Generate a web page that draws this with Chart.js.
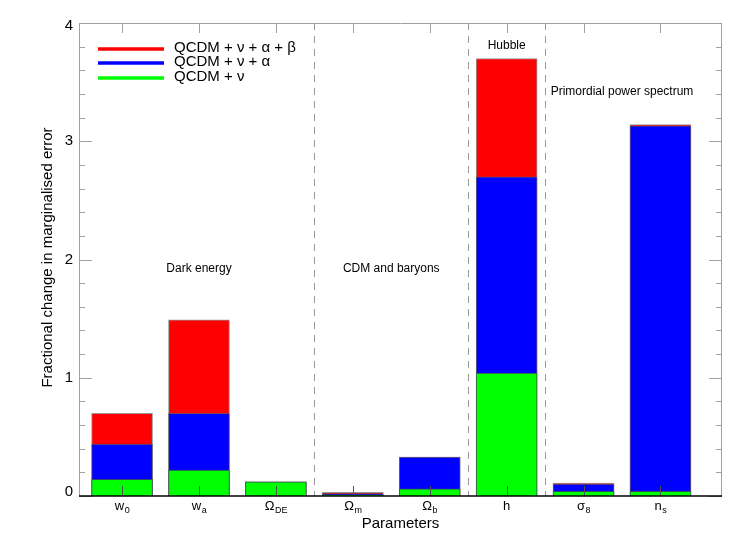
<!DOCTYPE html>
<html>
<head>
<meta charset="utf-8">
<script src="https://cdn.jsdelivr.net/npm/chart.js@4/dist/chart.umd.min.js"></script>
<style>
html,body{margin:0;padding:0;background:#fff;}
#wrap{width:747px;height:545px;position:relative;}
</style>
</head>
<body>
<div id="wrap"><canvas id="c" width="747" height="545"></canvas></div>
<script>
// ---- data ----
const paramMain = ['w', 'w', 'Ω', 'Ω', 'Ω', 'h', 'σ', 'n'];
const paramSub  = ['0', 'a', 'DE', 'm', 'b', '', '8', 's'];
const seriesNames = ['QCDM + ν + α + β', 'QCDM + ν + α', 'QCDM + ν'];
const fullModel  = [0.70, 1.49, 0.12, 0.03, 0.33, 3.70, 0.11, 3.14]; // QCDM + ν + α + β
const alphaModel = [0.44, 0.70, 0.12, 0.02, 0.33, 2.70, 0.10, 3.13]; // QCDM + ν + α
const nuModel    = [0.14, 0.22, 0.12, 0.01, 0.06, 1.04, 0.04, 0.04]; // QCDM + ν
const yTicks = [0, 1, 2, 3, 4];
const groupDividers = [2.5, 4.5, 5.5];
const groupLabels = [
  {text: 'Dark energy', x: 1, y: 1.92},
  {text: 'CDM and baryons', x: 3.5, y: 1.92},
  {text: 'Hubble', x: 5, y: 3.81},
  {text: 'Primordial power spectrum', x: 6.5, y: 3.42}
];

const colors = ['#ff0000', '#0000ff', '#00ff00'];
const FONT = '"Liberation Sans", Arial, Helvetica, sans-serif';

function pts(arr){ return arr.map((v,i)=>({x:i, y:v})); }

const decor = {
  id: 'decor',
  beforeDatasetsDraw(chart){
    const {ctx, chartArea:a, scales:{x, y}} = chart;
    ctx.save();
    ctx.strokeStyle = '#9a9a9a';
    ctx.lineWidth = 1;
    ctx.setLineDash([7,6]);
    groupDividers.forEach(d=>{
      const px = Math.round(x.getPixelForValue(d)) + 0.5;
      ctx.beginPath(); ctx.moveTo(px, a.top); ctx.lineTo(px, a.bottom); ctx.stroke();
    });
    ctx.setLineDash([]);
    ctx.restore();
  },
  afterDatasetsDraw(chart){
    const {ctx, chartArea:a, scales:{x, y}} = chart;
    ctx.save();
    // frame
    ctx.strokeStyle = '#a0a0a0';
    ctx.lineWidth = 1;
    ctx.beginPath();
    ctx.moveTo(a.left+0.5, a.bottom); ctx.lineTo(a.left+0.5, a.top+0.5);
    ctx.lineTo(a.right-0.5, a.top+0.5); ctx.lineTo(a.right-0.5, a.bottom);
    ctx.stroke();
    // y ticks (major + minor) on left and right
    for (let v = 0; v <= 4.0001; v += 0.2) {
      const major = Math.abs(v - Math.round(v)) < 1e-6;
      const len = major ? 13 : 6;
      const py = Math.round(y.getPixelForValue(v)) + 0.5;
      ctx.beginPath();
      ctx.moveTo(a.left, py); ctx.lineTo(a.left + len, py);
      ctx.moveTo(a.right, py); ctx.lineTo(a.right - len, py);
      ctx.stroke();
    }
    // x ticks at categories (bottom and top)
    paramMain.forEach((m,i)=>{
      const px = Math.round(x.getPixelForValue(i)) + 0.5;
      ctx.strokeStyle = '#505050';
      ctx.beginPath();
      ctx.moveTo(px, a.bottom); ctx.lineTo(px, a.bottom - 10);
      ctx.stroke();
      ctx.strokeStyle = '#a0a0a0';
      ctx.beginPath();
      ctx.moveTo(px, a.top); ctx.lineTo(px, a.top + 10);
      ctx.stroke();
    });
    // bottom axis
    ctx.strokeStyle = '#000';
    ctx.lineWidth = 1.5;
    ctx.beginPath(); ctx.moveTo(a.left, a.bottom); ctx.lineTo(a.right, a.bottom); ctx.stroke();

    // y tick labels
    ctx.fillStyle = '#000';
    ctx.font = '15px ' + FONT;
    ctx.textAlign = 'right';
    ctx.textBaseline = 'middle';
    yTicks.forEach(t=>{
      let py = y.getPixelForValue(t);
      if (t === 0) py -= 4;
      if (t === 4) py += 3;
      ctx.fillText(String(t), a.left - 6, py);
    });
    // x tick labels with subscripts
    paramMain.forEach((m,i)=>{
      const px = x.getPixelForValue(i);
      ctx.font = '13px ' + FONT;
      const mw = ctx.measureText(m).width;
      ctx.font = '9px ' + FONT;
      const sw = paramSub[i] ? ctx.measureText(paramSub[i]).width : 0;
      const sx = px - (mw + sw)/2;
      ctx.textAlign = 'left';
      ctx.textBaseline = 'alphabetic';
      ctx.font = '13px ' + FONT;
      ctx.fillText(m, sx, a.bottom + 14);
      if (paramSub[i]) {
        ctx.font = '9px ' + FONT;
        ctx.fillText(paramSub[i], sx + mw + 0.5, a.bottom + 17);
      }
    });
    // axis titles
    ctx.font = '15px ' + FONT;
    ctx.textAlign = 'center';
    ctx.textBaseline = 'middle';
    ctx.fillText('Parameters', (a.left + a.right)/2, a.bottom + 28);
    ctx.save();
    ctx.translate(48, (a.top + a.bottom)/2 - 2);
    ctx.rotate(-Math.PI/2);
    ctx.fillText('Fractional change in marginalised error', 0, 0);
    ctx.restore();
    // group labels
    ctx.font = '12px ' + FONT;
    groupLabels.forEach(g=>{
      ctx.fillText(g.text, x.getPixelForValue(g.x), y.getPixelForValue(g.y));
    });
    // legend
    const lx0 = a.left + 19, lx1 = a.left + 85;
    const ly = [49, 63, 78];
    ctx.lineWidth = 3.5;
    ctx.font = '15px ' + FONT;
    ctx.textAlign = 'left';
    seriesNames.forEach((n,i)=>{
      ctx.strokeStyle = colors[i];
      ctx.beginPath(); ctx.moveTo(lx0, ly[i]); ctx.lineTo(lx1, ly[i]); ctx.stroke();
      ctx.fillStyle = '#000';
      ctx.fillText(n, lx1 + 10, ly[i] - 1);
    });
    ctx.restore();
  }
};

const bw = 61;
new Chart(document.getElementById('c'), {
  type: 'bar',
  data: {
    datasets: [
      {label: seriesNames[2], data: pts(nuModel),    backgroundColor: colors[2], borderColor: 'rgba(60,90,60,0.8)', borderWidth: 1, barThickness: bw, grouped: false},
      {label: seriesNames[1], data: pts(alphaModel), backgroundColor: colors[1], borderColor: 'rgba(90,90,110,0.8)', borderWidth: 1, barThickness: bw, grouped: false},
      {label: seriesNames[0], data: pts(fullModel),  backgroundColor: colors[0], borderColor: 'rgba(140,140,140,0.9)', borderWidth: 1, barThickness: bw, grouped: false}
    ]
  },
  options: {
    responsive: false,
    animation: false,
    devicePixelRatio: 1,
    layout: {padding: {left: 79, right: 25, top: 23, bottom: 49}},
    plugins: {legend: {display: false}, tooltip: {enabled: false}},
    scales: {
      x: {type: 'linear', min: -0.56, max: 7.8, display: false, offset: false},
      y: {type: 'linear', min: 0, max: 4, display: false}
    }
  },
  plugins: [decor]
});
</script>
</body>
</html>
